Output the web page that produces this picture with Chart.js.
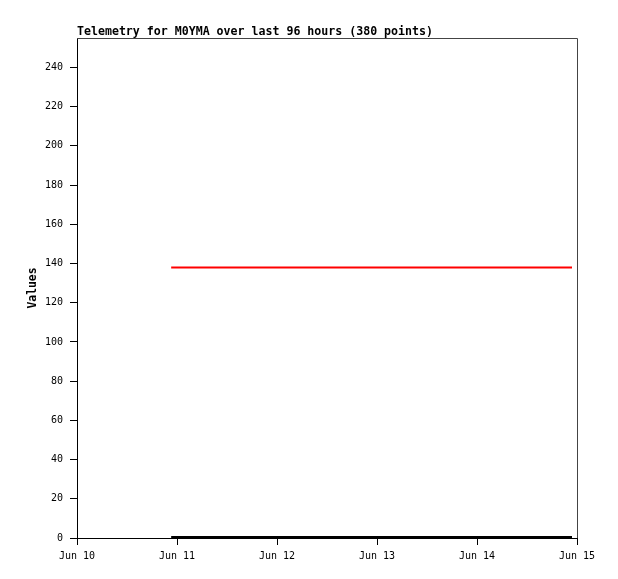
<!DOCTYPE html>
<html>
<head>
<meta charset="utf-8">
<script src="https://cdn.jsdelivr.net/npm/chart.js@4/dist/chart.umd.min.js"></script>
<style>
  html, body { margin: 0; padding: 0; background: #fff; }
  #wrap { width: 618px; height: 579px; }
</style>
</head>
<body>
<div id="wrap"><canvas id="chart" width="618" height="579"></canvas></div>
<script>
// hours since Jun 10 00:00
const hours = [22.6, 118.8];
const redValues = [138, 138];
const blackValues = [0.5, 0.5];
const dayLabels = ["Jun 10", "Jun 11", "Jun 12", "Jun 13", "Jun 14", "Jun 15"];
const yTicks = [0, 20, 40, 60, 80, 100, 120, 140, 160, 180, 200, 220, 240];
const titleText = "Telemetry for M0YMA over last 96 hours (380 points)";

const monoFont = "'DejaVu Sans Mono', 'Liberation Mono', monospace";

const frame = {
  id: "frame",
  afterDraw(chart) {
    const { ctx, chartArea: a } = chart;
    ctx.save();
    ctx.strokeStyle = "#444";
    ctx.lineWidth = 1;
    ctx.beginPath();
    ctx.moveTo(a.left, a.top + 0.5);
    ctx.lineTo(a.right + 0.5, a.top + 0.5);
    ctx.lineTo(a.right + 0.5, a.bottom);
    ctx.stroke();
    ctx.fillStyle = "#000";
    ctx.font = "bold 11.6px " + monoFont;
    ctx.textBaseline = "alphabetic";
    ctx.fillText(titleText, a.left, 35);
    ctx.restore();
  },
};

new Chart(document.getElementById("chart"), {
  type: "line",
  data: {
    datasets: [
      {
        data: hours.map((h, i) => ({ x: h, y: redValues[i] })),
        borderColor: "#ff0000",
        borderWidth: 2,
        pointRadius: 0,
        fill: false,
      },
      {
        data: hours.map((h, i) => ({ x: h, y: blackValues[i] })),
        borderColor: "#000000",
        borderWidth: 2,
        pointRadius: 0,
        fill: false,
      },
    ],
  },
  options: {
    responsive: false,
    animation: false,
    layout: { padding: { top: 38, right: 41, left: 26, bottom: 0 } },
    plugins: {
      legend: { display: false },
      tooltip: { enabled: false },
      title: { display: false },
    },
    scales: {
      x: {
        type: "linear",
        min: 0,
        max: 120,
        afterFit(scale) { scale.height = 41; },
        ticks: {
          stepSize: 24,
          autoSkip: false,
          maxRotation: 0,
          color: "#000",
          padding: 5,
          font: { family: monoFont, size: 10 },
          callback: (v) => dayLabels[v / 24] || "",
        },
        grid: { drawOnChartArea: false, drawTicks: true, tickLength: 7, color: "#000" },
        border: { display: true, color: "#000", width: 1 },
      },
      y: {
        min: 0,
        max: 255,
        afterFit(scale) { scale.width = 51; },
        afterBuildTicks(scale) { scale.ticks = yTicks.map((v) => ({ value: v })); },
        ticks: {
          color: "#000",
          padding: 7,
          font: { family: monoFont, size: 10 },
        },
        title: {
          display: true,
          text: "Values",
          color: "#000",
          font: { family: monoFont, size: 11.4, weight: "bold" },
          padding: { top: 0, bottom: 0 },
        },
        grid: { drawOnChartArea: false, drawTicks: true, tickLength: 7, color: "#000" },
        border: { display: true, color: "#000", width: 1 },
      },
    },
  },
  plugins: [frame],
});
</script>
</body>
</html>
